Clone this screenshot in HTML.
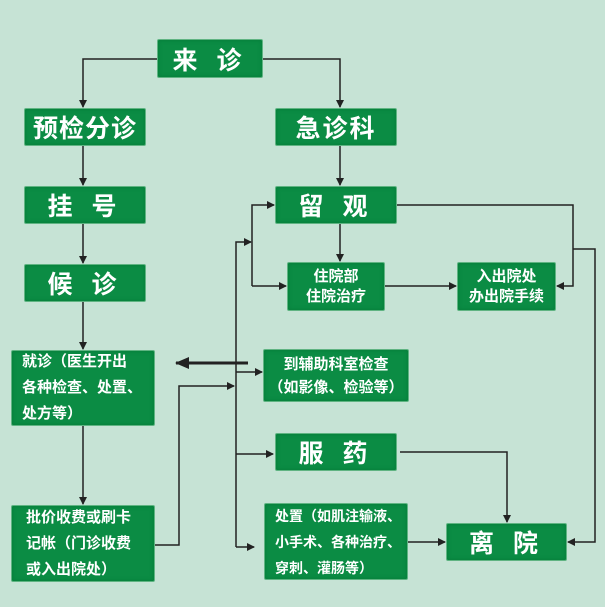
<!DOCTYPE html>
<html><head><meta charset="utf-8"><style>
body{margin:0;width:605px;height:607px;background:#c6e3d5;position:relative;overflow:hidden;font-family:"Liberation Sans","Noto Sans CJK SC","WenQuanYi Zen Hei",sans-serif}
.b{position:absolute;background:#0b8c44;color:#fff;font-weight:bold;display:flex;align-items:center;justify-content:center;text-align:center;box-sizing:border-box;border:1px solid #5fb482;border-radius:2px;box-shadow:inset 0 0 4px #067a38}
.l{font-size:25px;letter-spacing:6px}
.m{font-size:15px;line-height:20px}
.t{font-size:15px;line-height:26px;justify-content:flex-start;text-align:left;padding-left:10px}
svg{position:absolute;left:0;top:0}
</style></head><body>
<svg width="605" height="607">
<defs><marker id="a" markerWidth="8" markerHeight="8" refX="7" refY="4" orient="auto" markerUnits="userSpaceOnUse"><path d="M0,0 L8,4 L0,8 Z" fill="#222"/></marker>
<marker id="b" markerWidth="14" markerHeight="12" refX="13" refY="6" orient="auto" markerUnits="userSpaceOnUse"><path d="M0,0 L14,6 L0,12 Z" fill="#222"/></marker></defs>
<g stroke="#222" stroke-width="1.5" fill="none" marker-end="url(#a)">
<path d="M157 59 H83 V107"/>
<path d="M263 59 H340 V107"/>
<path d="M83 146 V185"/>
<path d="M340 146 V185"/>
<path d="M83 224 V263"/>
<path d="M83 302 V349"/>
<path d="M83 426 V504"/>
<path d="M340 224 V261"/>
<path d="M397 205 H573 V286 H557"/>
<path d="M573 249 H595 V542 H568"/>
<path d="M252 286 V205 H274"/>
<path d="M252 286 H286"/>
<path d="M385 286 H456"/>
<path d="M236 547 V242 H251"/>
<path d="M236 372 H262"/>
<path d="M155 545 H179 V386 H234"/>
<path d="M236 454 H273"/>
<path d="M236 547 H254"/>
<path d="M400 452 H507 V522"/>
<path d="M408 542 H445"/>
</g>
<path d="M248 363 H176" stroke="#222" stroke-width="3" marker-end="url(#b)"/>
</svg>
<div class="b l" style="left:157px;top:39px;width:106px;height:39px">来 诊</div>
<div class="b l" style="left:24px;top:108px;width:122px;height:38px;letter-spacing:1px">预检分诊</div>
<div class="b l" style="left:275px;top:108px;width:122px;height:38px;letter-spacing:2px">急诊科</div>
<div class="b l" style="left:24px;top:186px;width:122px;height:38px">挂 号</div>
<div class="b l" style="left:275px;top:186px;width:122px;height:38px">留 观</div>
<div class="b l" style="left:24px;top:264px;width:122px;height:38px">候 诊</div>
<div class="b m" style="left:287px;top:262px;width:98px;height:49px">住院部<br>住院治疗</div>
<div class="b m" style="left:457px;top:262px;width:99px;height:49px">入出院处<br>办出院手续</div>
<div class="b t" style="left:11px;top:350px;width:144px;height:76px">就诊（医生开出<br>各种检查、处置、<br>处方等）</div>
<div class="b m" style="left:263px;top:349px;width:146px;height:53px;line-height:23px">到辅助科室检查<br>（如影像、检验等）</div>
<div class="b l" style="left:275px;top:433px;width:122px;height:38px">服 药</div>
<div class="b t" style="left:11px;top:505px;width:144px;height:77px;padding-left:14px">批价收费或刷卡<br>记帐（门诊收费<br>或入出院处）</div>
<div class="b t" style="left:264px;top:503px;width:144px;height:77px;font-size:14px;padding-left:10px">处置（如肌注输液、<br>小手术、各种治疗、<br>穿刺、灌肠等）</div>
<div class="b l" style="left:446px;top:523px;width:121px;height:38px">离 院</div>
</body></html>
